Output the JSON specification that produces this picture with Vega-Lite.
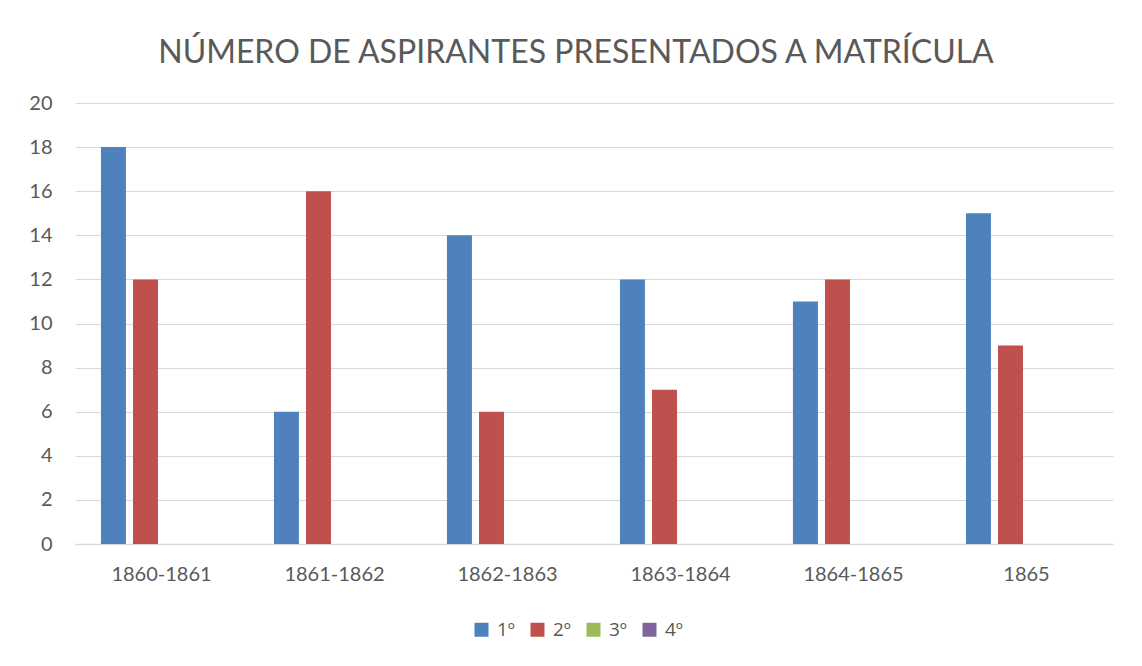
{
  "$schema": "https://vega.github.io/schema/vega-lite/v6.json",
  "autosize": {"type": "none"},
  "width": 1038,
  "height": 441,
  "padding": {"left": 75, "top": 103, "right": 29, "bottom": 122},
  "background": "white",
  "title": {
    "text": "NÚMERO DE ASPIRANTES PRESENTADOS A MATRÍCULA",
    "font": "Lato",
    "fontSize": 32,
    "fontWeight": "normal",
    "color": "#595959",
    "anchor": "middle",
    "dx": -18,
    "offset": 23
  },
  "data": {
    "values": [
      {"periodo": "1860-1861", "serie": "1º", "valor": 18},
      {"periodo": "1860-1861", "serie": "2º", "valor": 12},
      {"periodo": "1860-1861", "serie": "3º", "valor": 0},
      {"periodo": "1860-1861", "serie": "4º", "valor": 0},
      {"periodo": "1861-1862", "serie": "1º", "valor": 6},
      {"periodo": "1861-1862", "serie": "2º", "valor": 16},
      {"periodo": "1861-1862", "serie": "3º", "valor": 0},
      {"periodo": "1861-1862", "serie": "4º", "valor": 0},
      {"periodo": "1862-1863", "serie": "1º", "valor": 14},
      {"periodo": "1862-1863", "serie": "2º", "valor": 6},
      {"periodo": "1862-1863", "serie": "3º", "valor": 0},
      {"periodo": "1862-1863", "serie": "4º", "valor": 0},
      {"periodo": "1863-1864", "serie": "1º", "valor": 12},
      {"periodo": "1863-1864", "serie": "2º", "valor": 7},
      {"periodo": "1863-1864", "serie": "3º", "valor": 0},
      {"periodo": "1863-1864", "serie": "4º", "valor": 0},
      {"periodo": "1864-1865", "serie": "1º", "valor": 11},
      {"periodo": "1864-1865", "serie": "2º", "valor": 12},
      {"periodo": "1864-1865", "serie": "3º", "valor": 0},
      {"periodo": "1864-1865", "serie": "4º", "valor": 0},
      {"periodo": "1865", "serie": "1º", "valor": 15},
      {"periodo": "1865", "serie": "2º", "valor": 9},
      {"periodo": "1865", "serie": "3º", "valor": 0},
      {"periodo": "1865", "serie": "4º", "valor": 0}
    ]
  },
  "mark": {"type": "bar"},
  "encoding": {
    "x": {
      "field": "periodo",
      "type": "nominal",
      "sort": null,
      "title": null,
      "scale": {"paddingInner": 0.3, "paddingOuter": 0.15},
      "axis": {
        "labelAngle": 0,
        "labelFont": "Lato",
        "labelFontSize": 20,
        "labelColor": "#595959",
        "labelPadding": 20,
        "ticks": false,
        "domainColor": "#d9d9d9",
        "domainWidth": 1.5,
        "grid": false
      }
    },
    "xOffset": {
      "field": "serie",
      "type": "nominal",
      "scale": {"paddingInner": 0.22, "paddingOuter": 0}
    },
    "y": {
      "field": "valor",
      "type": "quantitative",
      "title": null,
      "scale": {"domain": [0, 20], "nice": false},
      "axis": {
        "values": [0, 2, 4, 6, 8, 10, 12, 14, 16, 18, 20],
        "labelFont": "Lato",
        "labelFontSize": 20,
        "labelColor": "#595959",
        "labelPadding": 23,
        "ticks": false,
        "domain": false,
        "gridColor": "#d9d9d9",
        "gridWidth": 1.2
      }
    },
    "color": {
      "field": "serie",
      "type": "nominal",
      "scale": {
        "domain": ["1º", "2º", "3º", "4º"],
        "range": ["#4F81BD", "#C0504D", "#9BBB59", "#8064A2"]
      },
      "legend": {
        "title": null,
        "orient": "none",
        "direction": "horizontal",
        "legendX": 397,
        "legendY": 517,
        "symbolType": "square",
        "symbolSize": 196,
        "symbolStrokeWidth": 0,
        "symbolOpacity": 1,
        "labelFont": "Open Sans",
        "labelFontSize": 19,
        "labelColor": "#595959",
        "columnPadding": 13,
        "labelOffset": 6
      }
    }
  },
  "config": {
    "view": {"stroke": null}
  }
}
